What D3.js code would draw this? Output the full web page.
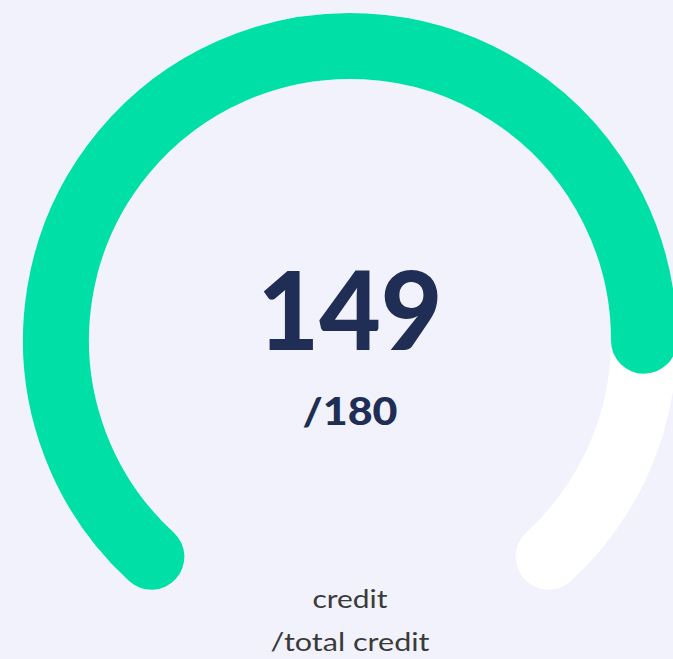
<!DOCTYPE html>
<html>
<head>
  <title>Credit Gauge</title>
  <script src="https://d3js.org/d3.v7.min.js"></script>
  <style>
    html, body { margin: 0; padding: 0; background: #f1f2fb; overflow: hidden; }
    text { font-family: Lato, "Open Sans", sans-serif; }
  </style>
</head>
<body>
  <svg id="chart"></svg>
  <script>
    // values
    var creditValue = 149;
    var creditTotal = 180;
    var valueLabel = ["149"];
    var totalLabel = ["/180"];
    var captionLines = ["credit", "/total credit"];

    var width = 673, height = 659;
    var cx = 350, cy = 340;
    var radius = 294, thickness = 66;

    var svg = d3.select("#chart")
      .attr("width", width)
      .attr("height", height);

    svg.append("rect")
      .attr("width", width)
      .attr("height", height)
      .attr("fill", "#f1f2fb");

    var g = svg.append("g")
      .attr("transform", "translate(" + cx + "," + cy + ")");

    // value -> angle, measured clockwise from 12 o'clock
    var angle = d3.scaleLinear()
      .domain([0, creditTotal])
      .range([-137.5, 137.5].map(d => d * Math.PI / 180));

    // open arc path so the round caps show
    function arcPath(a0, a1) {
      var p = d3.path();
      p.moveTo(radius * Math.sin(a0), -radius * Math.cos(a0));
      p.arc(0, 0, radius, a0 - Math.PI / 2, a1 - Math.PI / 2, false);
      return p.toString();
    }

    // track
    g.append("path")
      .attr("d", arcPath(angle(0), angle(creditTotal)))
      .attr("fill", "none")
      .attr("stroke", "#ffffff")
      .attr("stroke-width", thickness)
      .attr("stroke-linecap", "round");

    // value
    g.append("path")
      .attr("d", arcPath(angle(0), angle(creditValue)))
      .attr("fill", "none")
      .attr("stroke", "#00dfa6")
      .attr("stroke-width", thickness)
      .attr("stroke-linecap", "round");

    g.append("text")
      .data(valueLabel)
      .attr("x", 0)
      .attr("y", 10)
      .attr("text-anchor", "middle")
      .attr("textLength", 185)
      .attr("lengthAdjust", "spacingAndGlyphs")
      .style("font-size", "109px")
      .style("font-weight", "900")
      .style("fill", "#202e55")
      .text(d => d);

    g.append("text")
      .data(totalLabel)
      .attr("x", 0)
      .attr("y", 85)
      .attr("text-anchor", "middle")
      .attr("textLength", 95)
      .attr("lengthAdjust", "spacingAndGlyphs")
      .style("font-size", "37px")
      .style("font-weight", "900")
      .style("fill", "#202e55")
      .text(d => d);

    var captionWidths = [75, 159];
    g.selectAll(".caption")
      .data(captionLines)
      .enter()
      .append("text")
      .attr("class", "caption")
      .attr("x", 0)
      .attr("y", (d, i) => 268 + i * 43)
      .attr("text-anchor", "middle")
      .attr("textLength", (d, i) => captionWidths[i])
      .attr("lengthAdjust", "spacingAndGlyphs")
      .style("font-size", "25px")
      .style("fill", "#3a3a3a")
      .text(d => d);
  </script>
</body>
</html>
